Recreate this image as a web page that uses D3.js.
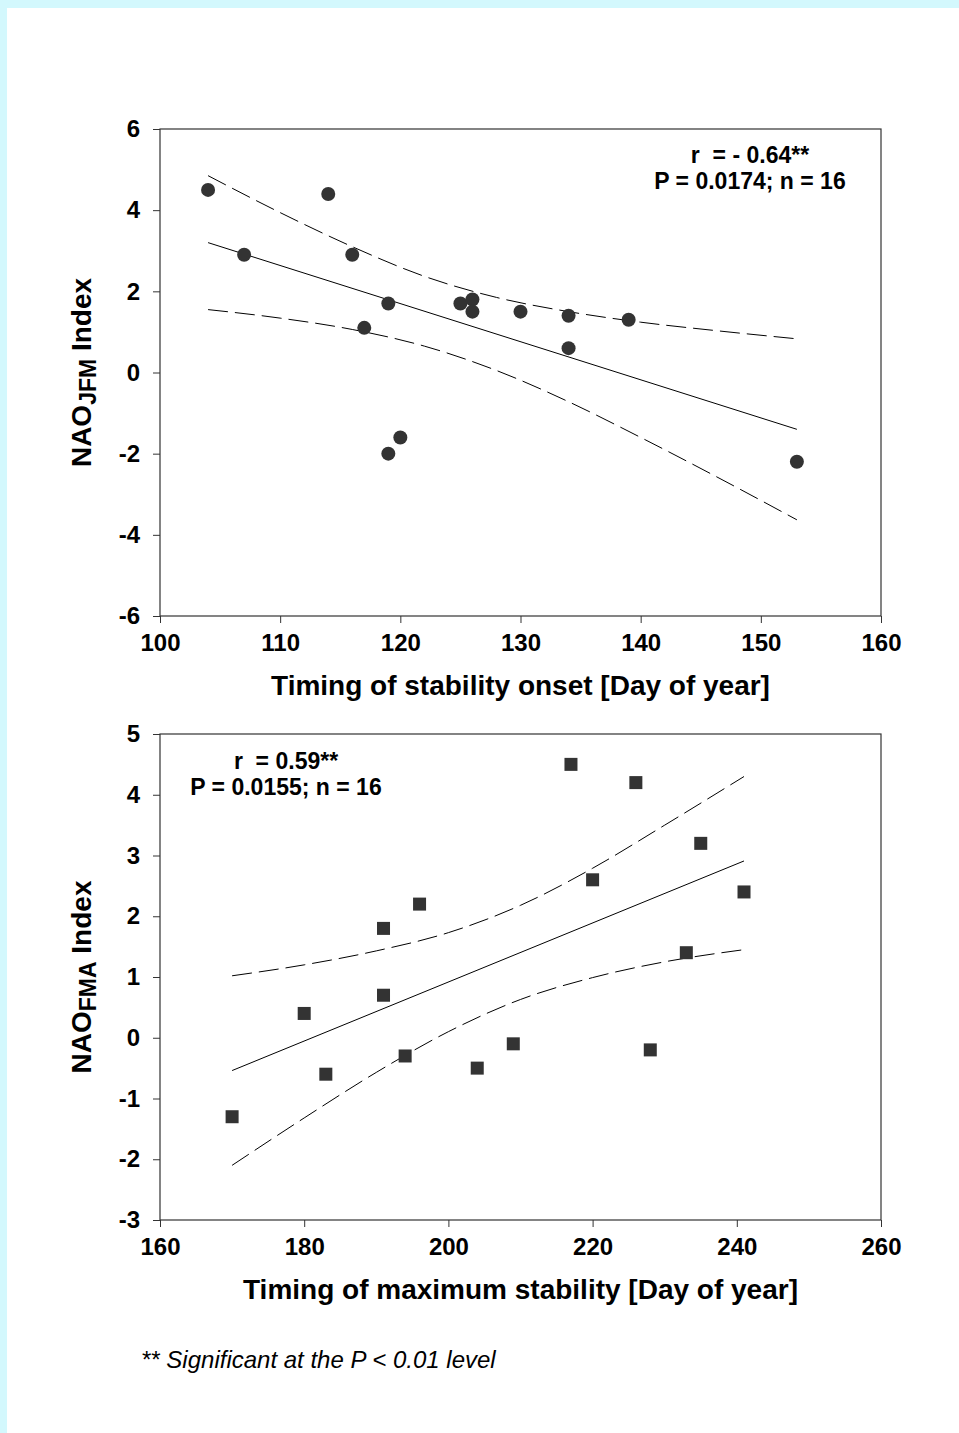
<!DOCTYPE html>
<html>
<head>
<meta charset="utf-8">
<script src="https://cdn.jsdelivr.net/npm/d3@7"></script>
<style>
  body { margin: 0; background: #fff; }
  svg { display: block; }
  text { font-family: "Liberation Sans", Arial, sans-serif; fill: #000; }
</style>
</head>
<body>
<svg width="959" height="1433"></svg>
<script>
// panel 1: onset vs NAO JFM
let onsetDay = [104, 107, 114, 116, 117, 119, 119, 120, 125, 126, 126, 130, 134, 134, 139, 153]
let naoJFM = [4.5, 2.9, 4.4, 2.9, 1.1, 1.7, -2.0, -1.6, 1.7, 1.8, 1.5, 1.5, 1.4, 0.6, 1.3, -2.2]
let fit1X = [104, 153]
let fit1Y = [3.2, -1.4]
let band1X = [104, 110, 116, 122, 128, 134, 140, 146, 153]
let band1Up = [4.85, 3.94, 3.10, 2.37, 1.85, 1.50, 1.24, 1.04, 0.83]
let band1Lo = [1.55, 1.34, 1.06, 0.65, 0.05, -0.72, -1.60, -2.52, -3.63]
let x1Ticks = [100, 110, 120, 130, 140, 150, 160]
let y1Ticks = [-6, -4, -2, 0, 2, 4, 6]

// panel 2: max stability vs NAO FMA
let maxDay = [170, 180, 183, 191, 191, 194, 196, 204, 209, 217, 220, 226, 228, 233, 235, 241]
let naoFMA = [-1.3, 0.4, -0.6, 1.8, 0.7, -0.3, 2.2, -0.5, -0.1, 4.5, 2.6, 4.2, -0.2, 1.4, 3.2, 2.4]
let fit2X = [170, 241]
let fit2Y = [-0.54, 2.91]
let band2X = [170, 180, 190, 200, 210, 220, 230, 241]
let band2Up = [1.02, 1.20, 1.43, 1.73, 2.18, 2.79, 3.50, 4.30]
let band2Lo = [-2.10, -1.32, -0.57, 0.10, 0.63, 0.99, 1.25, 1.45]
let x2Ticks = [160, 180, 200, 220, 240, 260]
let y2Ticks = [-3, -2, -1, 0, 1, 2, 3, 4, 5]

let svg = d3.select('svg')

// light cyan page edge
svg.append('rect').attr('width', 959).attr('height', 1433).attr('fill', '#d3f8fd')
svg.append('rect').attr('x', 7).attr('y', 8).attr('width', 952).attr('height', 1425).attr('fill', '#fff')

let panel = cfg => {
  let x = d3.scaleLinear().domain(cfg.xDomain).range([160, 881])
  let y = d3.scaleLinear().domain(cfg.yDomain).range([cfg.bottom, cfg.top])
  let g = svg.append('g')

  g.append('g')
    .attr('transform', 'translate(0,' + cfg.bottom + ')')
    .call(d3.axisBottom(x).tickValues(cfg.xTicks).tickSize(7).tickPadding(11).tickFormat(d => String(d)))
    .call(a => a.select('.domain').remove())
    .call(a => a.selectAll('line').attr('stroke', '#333'))
    .call(a => a.selectAll('text').attr('font-size', 24).attr('font-weight', 'bold').attr('font-family', null))

  g.append('g')
    .attr('transform', 'translate(160,0)')
    .call(d3.axisLeft(y).tickValues(cfg.yTicks).tickSize(7).tickPadding(13).tickFormat(d => String(d)))
    .call(a => a.select('.domain').remove())
    .call(a => a.selectAll('line').attr('stroke', '#333'))
    .call(a => a.selectAll('text').attr('font-size', 24).attr('font-weight', 'bold').attr('font-family', null))

  g.append('rect')
    .attr('x', x(cfg.xDomain[0])).attr('y', y(cfg.yDomain[1]))
    .attr('width', x(cfg.xDomain[1]) - x(cfg.xDomain[0]))
    .attr('height', y(cfg.yDomain[0]) - y(cfg.yDomain[1]))
    .attr('fill', 'none').attr('stroke', '#333').attr('stroke-width', 1.2)

  let line = d3.line().x(d => x(d[0])).y(d => y(d[1]))
  let curve = d3.line().x(d => x(d[0])).y(d => y(d[1])).curve(d3.curveMonotoneX)

  g.append('path')
    .attr('d', line(d3.zip(cfg.fitX, cfg.fitY)))
    .attr('fill', 'none').attr('stroke', '#000').attr('stroke-width', 1)

  ;[cfg.bandUp, cfg.bandLo].forEach(b => {
    g.append('path')
      .attr('d', curve(d3.zip(cfg.bandX, b)))
      .attr('fill', 'none').attr('stroke', '#000').attr('stroke-width', 1)
      .attr('stroke-dasharray', '20,7')
  })

  let pts = d3.zip(cfg.px, cfg.py)
  if (cfg.square) {
    g.selectAll('rect.pt').data(pts).enter().append('rect')
      .attr('class', 'pt')
      .attr('x', d => x(d[0]) - 6.5).attr('y', d => y(d[1]) - 6.5)
      .attr('width', 13).attr('height', 13)
      .attr('fill', '#333')
  } else {
    g.selectAll('circle').data(pts).enter().append('circle')
      .attr('cx', d => x(d[0])).attr('cy', d => y(d[1])).attr('r', 7)
      .attr('fill', '#333')
  }

  cfg.note.forEach((t, i) => {
    g.append('text')
      .attr('x', cfg.noteX).attr('y', cfg.noteY + i * 26)
      .attr('text-anchor', 'middle').attr('font-size', 23).attr('font-weight', 'bold')
      .style('white-space', 'pre')
      .text(t)
  })

  g.append('text')
    .attr('x', 520.5).attr('y', cfg.bottom + 79)
    .attr('text-anchor', 'middle').attr('font-size', 28).attr('font-weight', 'bold')
    .text(cfg.xTitle)

  let yt = g.append('text')
    .attr('transform', 'translate(91,' + (cfg.top + cfg.bottom) / 2 + ') rotate(-90)')
    .attr('text-anchor', 'middle').attr('font-size', 28).attr('font-weight', 'bold')
  yt.append('tspan').text('NAO')
  yt.append('tspan').attr('dy', 5).attr('font-size', 23).text(cfg.sub)
  yt.append('tspan').attr('dy', -5).text(' Index')
}

panel({
  xDomain: [100, 160], yDomain: [-6, 6], top: 129, bottom: 616,
  xTicks: x1Ticks, yTicks: y1Ticks,
  px: onsetDay, py: naoJFM, square: false,
  fitX: fit1X, fitY: fit1Y, bandX: band1X, bandUp: band1Up, bandLo: band1Lo,
  note: ['r  = - 0.64**', 'P = 0.0174; n = 16'], noteX: 750, noteY: 163,
  xTitle: 'Timing of stability onset [Day of year]', sub: 'JFM'
})

panel({
  xDomain: [160, 260], yDomain: [-3, 5], top: 734, bottom: 1220,
  xTicks: x2Ticks, yTicks: y2Ticks,
  px: maxDay, py: naoFMA, square: true,
  fitX: fit2X, fitY: fit2Y, bandX: band2X, bandUp: band2Up, bandLo: band2Lo,
  note: ['r  = 0.59**', 'P = 0.0155; n = 16'], noteX: 286, noteY: 769,
  xTitle: 'Timing of maximum stability [Day of year]', sub: 'FMA'
})

svg.append('text')
  .attr('x', 141).attr('y', 1368)
  .attr('font-size', 24).attr('font-style', 'italic')
  .text('** Significant at the P < 0.01 level')
</script>
</body>
</html>
